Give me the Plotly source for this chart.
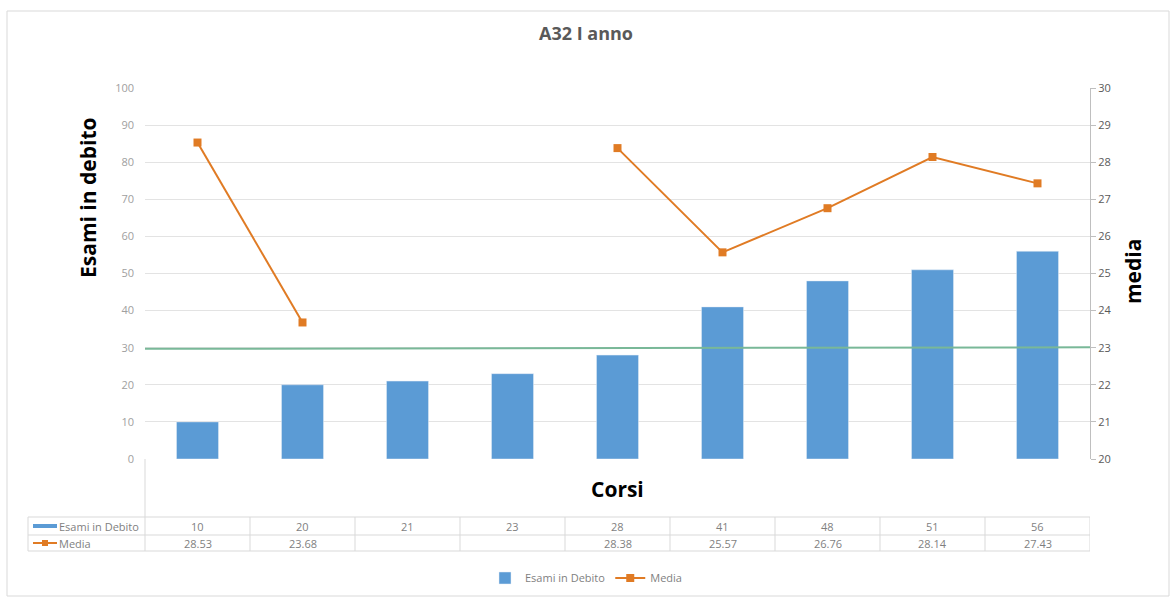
import plotly.graph_objects as go

corsi = ["1", "2", "3", "4", "5", "6", "7", "8", "9"]
esami = [10, 20, 21, 23, 28, 41, 48, 51, 56]
media = [28.53, 23.68, None, None, 28.38, 25.57, 26.76, 28.14, 27.43]
soglia_x = [-0.5, 8.5]
soglia = [22.97, 23.01]
left_ticks = list(range(0, 101, 10))
right_ticks = list(range(20, 31))

FONT = "Open Sans"
BLUE = "#5B9BD5"
ORANGE = "#E07B24"
GREEN = "#79B898"
GRID = "#E3E3E3"
LINEC = "#D9D9D9"

xs = list(range(len(esami)))

fig = go.Figure()
fig.add_trace(go.Bar(x=xs, y=esami, name="Esami in Debito", marker_color=BLUE,
                     width=0.4, yaxis="y"))
fig.add_trace(go.Scatter(x=xs, y=media, name="Media", mode="lines+markers",
                         line=dict(color=ORANGE, width=2),
                         marker=dict(symbol="square", size=8, color=ORANGE),
                         connectgaps=False, yaxis="y2"))
fig.add_trace(go.Scatter(x=soglia_x, y=soglia, mode="lines", showlegend=False,
                         line=dict(color=GREEN, width=2), yaxis="y2", hoverinfo="skip"))

# plot area geometry in pixels
W, H = 1172, 598
L, R, T, B = 145, 1090, 88, 459
pw, ph = R - L, B - T

def px(x):
    return (x - L) / pw

def py(y):
    return (B - y) / ph

shapes = []
annotations = []

# outer border
shapes.append(dict(type="rect", xref="paper", yref="paper", x0=px(7), x1=px(1169),
                   y0=py(596), y1=py(11), line=dict(color=LINEC, width=1)))

# table lines
row_tops = [517, 535, 551]
for yy in row_tops:
    shapes.append(dict(type="line", xref="paper", yref="paper", x0=px(28), x1=1,
                       y0=py(yy), y1=py(yy), line=dict(color=LINEC, width=1)))
shapes.append(dict(type="line", xref="paper", yref="paper", x0=px(28), x1=px(28),
                   y0=py(517), y1=py(551), line=dict(color=LINEC, width=1)))
shapes.append(dict(type="line", xref="paper", yref="paper", x0=0, x1=0,
                   y0=py(459), y1=py(551), line=dict(color=LINEC, width=1)))
for i in range(len(esami)):
    shapes.append(dict(type="line", xref="x", yref="paper", x0=i + 0.5, x1=i + 0.5,
                       y0=py(517), y1=py(551), line=dict(color=LINEC, width=1)))

cell_font = dict(family=FONT, size=11, color="#7F7F7F")

# table cells
for i, (e, m) in enumerate(zip(esami, media)):
    annotations.append(dict(x=i, y=py(526), xref="x", yref="paper", text=str(e),
                            xanchor="center", yanchor="middle", showarrow=False, font=cell_font))
    if m is not None:
        annotations.append(dict(x=i, y=py(543), xref="x", yref="paper", text=f"{m:.2f}",
                                xanchor="center", yanchor="middle", showarrow=False, font=cell_font))

# table legend keys
shapes.append(dict(type="rect", xref="paper", yref="paper", x0=px(33), x1=px(57),
                   y0=py(528), y1=py(524), fillcolor=BLUE, line=dict(width=0)))
shapes.append(dict(type="line", xref="paper", yref="paper", x0=px(33), x1=px(57),
                   y0=py(543), y1=py(543), line=dict(color=ORANGE, width=2)))
shapes.append(dict(type="rect", xref="paper", yref="paper", x0=px(42), x1=px(48),
                   y0=py(546), y1=py(540), fillcolor=ORANGE, line=dict(width=0)))
annotations.append(dict(x=px(57), y=py(526), xref="paper", yref="paper", text="Esami in Debito",
                        xanchor="left", yanchor="middle", showarrow=False, font=cell_font))
annotations.append(dict(x=px(57), y=py(543), xref="paper", yref="paper", text="Media",
                        xanchor="left", yanchor="middle", showarrow=False, font=cell_font))

# axis titles
annotations.append(dict(x=px(88), y=py(198), xref="paper", yref="paper", text="<b>Esami in debito</b>",
                        textangle=-90, xanchor="center", yanchor="middle", showarrow=False,
                        font=dict(family=FONT, size=21, color="#000000")))
annotations.append(dict(x=px(1133), y=py(272), xref="paper", yref="paper", text="<b>media</b>",
                        textangle=-90, xanchor="center", yanchor="middle", showarrow=False,
                        font=dict(family=FONT, size=21, color="#000000")))
annotations.append(dict(x=px(617), y=py(489), xref="paper", yref="paper", text="<b>Corsi</b>",
                        xanchor="center", yanchor="middle", showarrow=False,
                        font=dict(family=FONT, size=21, color="#000000")))

fig.update_layout(
    width=W, height=H,
    margin=dict(l=L, r=W - R, t=T, b=H - B, autoexpand=False),
    paper_bgcolor="white", plot_bgcolor="white",
    title=dict(text="<b>A32 I anno</b>", x=0.5, xanchor="center", y=1 - 34 / H, yanchor="middle",
               font=dict(family=FONT, size=18, color="#595959")),
    font=dict(family=FONT),
    xaxis=dict(range=[-0.5, 8.5], showticklabels=False, showgrid=False, zeroline=False,
               showline=False, fixedrange=True),
    yaxis=dict(range=[0, 100], tickvals=left_ticks, showgrid=True, gridcolor=GRID,
               zeroline=False, showline=False, ticklabelstandoff=10,
               tickfont=dict(family=FONT, size=11, color="#A0A0A0")),
    yaxis2=dict(range=[20, 30], tickvals=right_ticks, overlaying="y", side="right",
                showgrid=False, zeroline=False, showline=True, linecolor="#BFBFBF", linewidth=1,
                ticks="outside", ticklen=5, tickcolor="#BFBFBF",
                tickfont=dict(family=FONT, size=11, color="#595959")),
    legend=dict(orientation="h", x=0.5, xanchor="center", xref="container",
                y=1 - 578 / H, yanchor="middle", yref="container",
                font=dict(family=FONT, size=11, color="#7F7F7F")),
    shapes=shapes, annotations=annotations, showlegend=True,
)

post = (
    "document.documentElement.style.margin='0';"
    "document.documentElement.style.overflow='hidden';"
    "document.body.style.margin='0';"
    "document.body.style.overflow='hidden';"
)
fig.write_html("out.html", post_script=post, config={"displayModeBar": False})
